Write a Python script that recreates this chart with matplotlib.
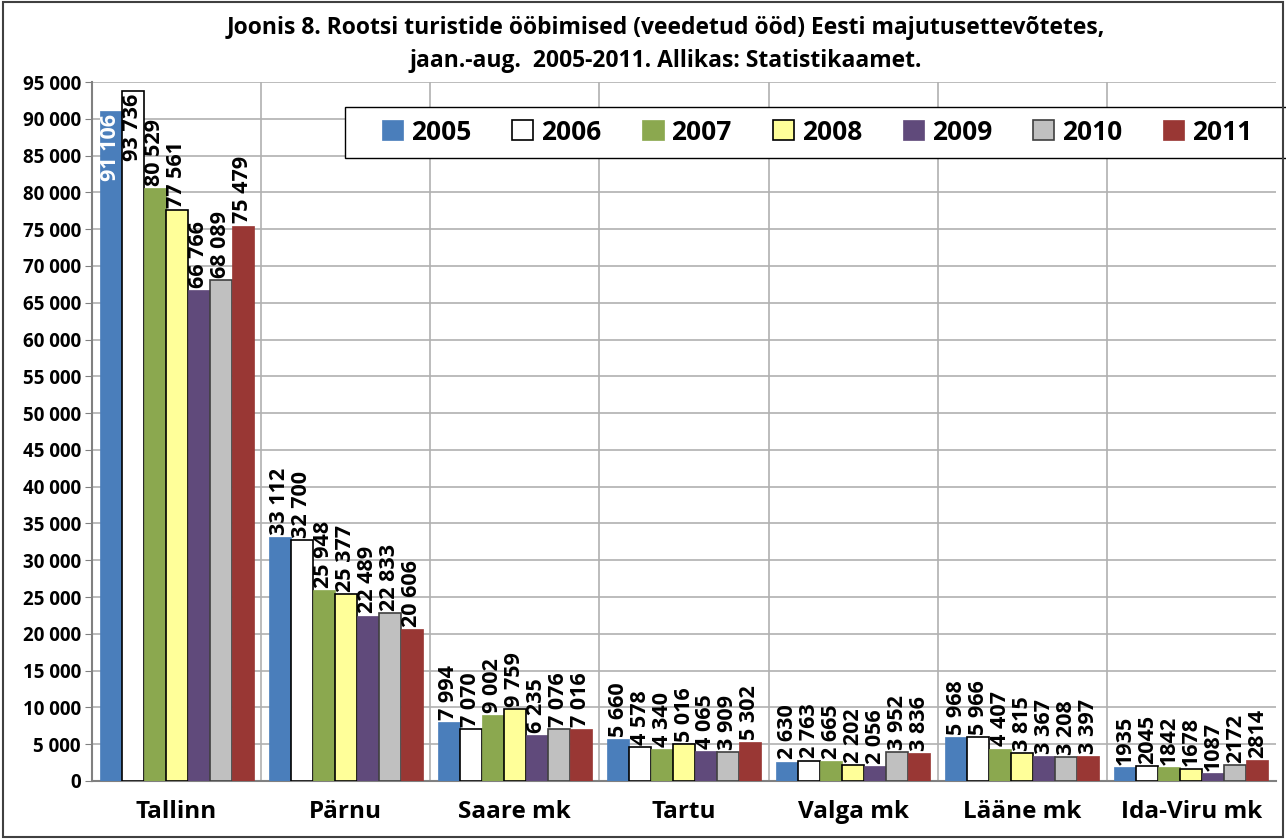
import numpy as np
import matplotlib
matplotlib.use("Agg")
import matplotlib.pyplot as plt
from matplotlib.ticker import FuncFormatter, MultipleLocator

plt.rcParams['font.family'] = ['Open Sans', 'DejaVu Sans']

regions = ["Tallinn", "Pärnu", "Saare mk", "Tartu", "Valga mk", "Lääne mk", "Ida-Viru mk"]
years = ["2005", "2006", "2007", "2008", "2009", "2010", "2011"]

v2005 = [91106, 33112, 7994, 5660, 2630, 5968, 1935]
v2006 = [93736, 32700, 7070, 4578, 2763, 5966, 2045]
v2007 = [80529, 25948, 9002, 4340, 2665, 4407, 1842]
v2008 = [77561, 25377, 9759, 5016, 2202, 3815, 1678]
v2009 = [66766, 22489, 6235, 4065, 2056, 3367, 1087]
v2010 = [68089, 22833, 7076, 3909, 3952, 3208, 2172]
v2011 = [75479, 20606, 7016, 5302, 3836, 3397, 2814]
series = [v2005, v2006, v2007, v2008, v2009, v2010, v2011]

# Ida-Viru labels have no thousands space in the original
plain_labels = {"Ida-Viru mk"}

colors = ["#4A7EBB", "#FFFFFF", "#8BA84F", "#FFFF99", "#604A7B", "#C0C0C0", "#993734"]
edges = [None, "black", None, "black", None, "#404040", None]

lbl_size = 15.5


def fmt(v, pos=None):
    return f"{int(v):,}".replace(",", " ")


fig = plt.figure(figsize=(12.86, 8.39), dpi=100)
ax = fig.add_axes([92 / 1286, 1 - 781 / 839, (1276 - 92) / 1286, (781 - 82) / 839])

x = np.arange(len(regions))
w = 0.13
for i, (vals, c, e) in enumerate(zip(series, colors, edges)):
    pos = x + (i - 3) * w
    ax.bar(pos, vals, w, color=c, edgecolor=e if e else c,
           linewidth=1.2 if e else 0.5, label=years[i], zorder=3)
    for j, (p, v) in enumerate(zip(pos, vals)):
        txt = str(v) if regions[j] in plain_labels else fmt(v)
        if regions[j] == "Tallinn" and i == 0:
            ax.text(p, v - 500, txt, rotation=90, ha="center", va="top",
                    fontsize=lbl_size, fontweight="bold", color="white", zorder=4)
        elif regions[j] == "Tallinn" and i == 1:
            ax.text(p, v - 300, txt, rotation=90, ha="center", va="top",
                    fontsize=lbl_size, fontweight="bold", color="black", zorder=4)
        else:
            ax.text(p, v + 300, txt, rotation=90, ha="center", va="bottom",
                    fontsize=lbl_size, fontweight="bold", color="black", zorder=4)

ax.set_xlim(-0.5, len(regions) - 0.5)
ax.set_ylim(0, 95000)
ax.yaxis.set_major_locator(MultipleLocator(5000))
ax.yaxis.set_major_formatter(FuncFormatter(fmt))
ax.set_xticks(x)
ax.set_xticklabels(regions, fontsize=17.5, fontweight="bold")
for lab in ax.get_yticklabels():
    lab.set_fontweight("bold")
    lab.set_fontsize(13.5)
ax.tick_params(axis="x", length=0, pad=14)
ax.tick_params(axis="y", length=5, color="#808080", pad=3)

ax.grid(axis="y", color="#B0B0B0", linewidth=1.2, zorder=0)
for b in np.arange(0.5, len(regions) - 0.5, 1):
    ax.axvline(b, color="#B0B0B0", linewidth=1.2, zorder=0)
for s in ["top", "right"]:
    ax.spines[s].set_visible(False)
ax.spines["left"].set_color("#808080")
ax.spines["bottom"].set_color("#808080")
ax.spines["left"].set_linewidth(1.5)
ax.spines["bottom"].set_linewidth(1.5)

fig.text(0.518, 1 - 28 / 839, "Joonis 8. Rootsi turistide ööbimised (veedetud ööd) Eesti majutusettevõtetes,",
         ha="center", va="center", fontsize=16.5, fontweight="bold")
fig.text(0.518, 1 - 61 / 839, "jaan.-aug.  2005-2011. Allikas: Statistikaamet.",
         ha="center", va="center", fontsize=16.5, fontweight="bold")

# legend box runs off the right edge of the figure, like the original
legbox = plt.Rectangle((345 / 1286, 1 - 158 / 839), 1.0, 51 / 839, transform=fig.transFigure,
                       facecolor="white", edgecolor="black", linewidth=1.0, zorder=5)
fig.patches.append(legbox)
leg = fig.legend(loc="center left", bbox_to_anchor=(382 / 1286, 1 - 132 / 839), ncol=7,
                 prop={"weight": "bold", "size": 19}, frameon=False,
                 handlelength=0.8, handleheight=0.8, columnspacing=1.55,
                 handletextpad=0.3, borderpad=0.0, borderaxespad=0)
leg.set_zorder(6)

border = plt.Rectangle((0.002, 0.002), 0.996, 0.996, transform=fig.transFigure,
                       fill=False, edgecolor="#404040", linewidth=1.5, zorder=7)
fig.patches.append(border)

fig.savefig("out.png", dpi=100)
